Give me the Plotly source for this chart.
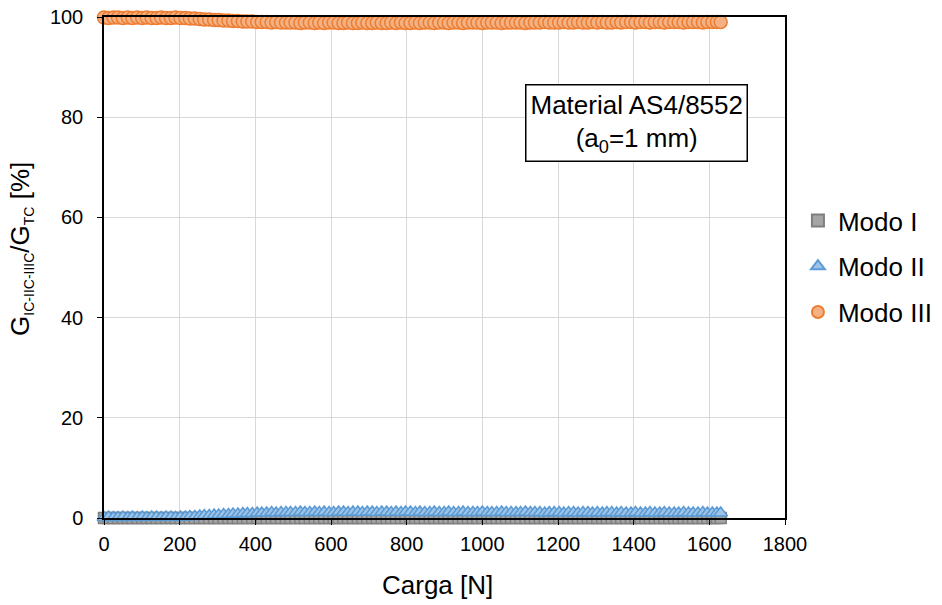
import plotly.graph_objects as go

# Applied load [N]
carga = [
    0, 12, 25, 37, 50, 63, 75, 88, 101, 113,
    126, 139, 151, 164, 177, 189, 202, 215, 227, 240,
    253, 265, 278, 291, 303, 316, 329, 341, 354, 367,
    379, 392, 405, 417, 430, 443, 455, 468, 481, 493,
    506, 519, 531, 544, 557, 569, 582, 595, 607, 620,
    633, 645, 658, 671, 683, 696, 709, 721, 734, 747,
    759, 772, 785, 797, 810, 823, 835, 848, 861, 873,
    886, 899, 911, 924, 937, 949, 962, 975, 987, 1000,
    1013, 1025, 1038, 1051, 1063, 1076, 1089, 1101, 1114, 1127,
    1139, 1152, 1165, 1177, 1190, 1203, 1215, 1228, 1241, 1253,
    1266, 1279, 1291, 1304, 1317, 1329, 1342, 1355, 1367, 1380,
    1393, 1405, 1418, 1431, 1443, 1456, 1469, 1481, 1494, 1507,
    1519, 1532, 1545, 1557, 1570, 1583, 1595, 1608, 1620, 1630,
]

# Energy release rate share of each mode [%]
modo_i = [
    0.0, 0.0, 0.0, 0.0, 0.0, 0.0, 0.0, 0.0, 0.0, 0.0,
    0.0, 0.0, 0.0, 0.0, 0.0, 0.0, 0.0, 0.0, 0.0, 0.0,
    0.0, 0.0, 0.0, 0.0, 0.0, 0.0, 0.0, 0.0, 0.0, 0.0,
    0.0, 0.0, 0.0, 0.0, 0.0, 0.0, 0.0, 0.0, 0.0, 0.0,
    0.0, 0.0, 0.0, 0.0, 0.0, 0.0, 0.0, 0.0, 0.0, 0.0,
    0.0, 0.0, 0.0, 0.0, 0.0, 0.0, 0.0, 0.0, 0.0, 0.0,
    0.0, 0.0, 0.0, 0.0, 0.0, 0.0, 0.0, 0.0, 0.0, 0.0,
    0.0, 0.0, 0.0, 0.0, 0.0, 0.0, 0.0, 0.0, 0.0, 0.0,
    0.0, 0.0, 0.0, 0.0, 0.0, 0.0, 0.0, 0.0, 0.0, 0.0,
    0.0, 0.0, 0.0, 0.0, 0.0, 0.0, 0.0, 0.0, 0.0, 0.0,
    0.0, 0.0, 0.0, 0.0, 0.0, 0.0, 0.0, 0.0, 0.0, 0.0,
    0.0, 0.0, 0.0, 0.0, 0.0, 0.0, 0.0, 0.0, 0.0, 0.0,
    0.0, 0.0, 0.0, 0.0, 0.0, 0.0, 0.0, 0.0, 0.0, 0.0,
]

modo_ii = [
    0.1, 0.2, 0.1, 0.1, 0.2, 0.1, 0.2, 0.1, 0.2, 0.1,
    0.2, 0.2, 0.1, 0.2, 0.2, 0.1, 0.2, 0.2, 0.3, 0.3,
    0.4, 0.5, 0.5, 0.6, 0.6, 0.7, 0.7, 0.8, 0.8, 0.9,
    0.9, 0.9, 1.0, 1.0, 1.0, 1.1, 1.0, 1.1, 1.1, 1.1,
    1.1, 1.2, 1.1, 1.1, 1.2, 1.1, 1.2, 1.1, 1.1, 1.2,
    1.2, 1.1, 1.2, 1.2, 1.1, 1.2, 1.2, 1.1, 1.2, 1.2,
    1.1, 1.2, 1.1, 1.2, 1.2, 1.1, 1.2, 1.1, 1.1, 1.2,
    1.1, 1.1, 1.2, 1.1, 1.1, 1.2, 1.1, 1.1, 1.1, 1.2,
    1.1, 1.1, 1.1, 1.2, 1.1, 1.1, 1.1, 1.1, 1.2, 1.1,
    1.1, 1.1, 1.0, 1.1, 1.1, 1.1, 1.0, 1.1, 1.1, 1.0,
    1.1, 1.1, 1.0, 1.1, 1.0, 1.1, 1.1, 1.0, 1.1, 1.0,
    1.0, 1.1, 1.0, 1.0, 1.1, 1.0, 1.0, 1.1, 1.0, 1.0,
    1.0, 1.1, 1.0, 1.0, 1.0, 1.1, 1.0, 1.0, 1.0, 1.0,
]

modo_iii = [
    99.9, 99.8, 99.9, 99.9, 99.8, 99.9, 99.8, 99.9, 99.8, 99.9,
    99.8, 99.8, 99.9, 99.8, 99.8, 99.9, 99.8, 99.8, 99.7, 99.7,
    99.6, 99.5, 99.5, 99.4, 99.4, 99.3, 99.3, 99.2, 99.2, 99.1,
    99.1, 99.1, 99.0, 99.0, 99.0, 98.9, 99.0, 98.9, 98.9, 98.9,
    98.9, 98.8, 98.9, 98.9, 98.8, 98.9, 98.8, 98.9, 98.9, 98.8,
    98.8, 98.9, 98.8, 98.8, 98.9, 98.8, 98.8, 98.9, 98.8, 98.8,
    98.9, 98.8, 98.9, 98.8, 98.8, 98.9, 98.8, 98.9, 98.9, 98.8,
    98.9, 98.9, 98.8, 98.9, 98.9, 98.8, 98.9, 98.9, 98.9, 98.8,
    98.9, 98.9, 98.9, 98.8, 98.9, 98.9, 98.9, 98.9, 98.8, 98.9,
    98.9, 98.9, 99.0, 98.9, 98.9, 98.9, 99.0, 98.9, 98.9, 99.0,
    98.9, 98.9, 99.0, 98.9, 99.0, 98.9, 98.9, 99.0, 98.9, 99.0,
    99.0, 98.9, 99.0, 99.0, 98.9, 99.0, 99.0, 98.9, 99.0, 99.0,
    99.0, 98.9, 99.0, 99.0, 99.0, 98.9, 99.0, 99.0, 99.0, 99.0,
]

x_ticks = [0, 200, 400, 600, 800, 1000, 1200, 1400, 1600, 1800]
y_ticks = [0, 20, 40, 60, 80, 100]

FONT = "Liberation Sans, Arial, sans-serif"

fig = go.Figure()

fig.add_trace(go.Scatter(
    x=carga, y=modo_i, mode="markers", name="Modo I", cliponaxis=False,
    legendgroup="i",
    marker=dict(symbol="square", size=11, color="#A5A5A5",
                line=dict(color="#7F7F7F", width=1.5)),
))
fig.add_trace(go.Scatter(
    x=carga, y=modo_ii, mode="markers", name="Modo II", cliponaxis=False,
    legendgroup="ii",
    marker=dict(symbol="triangle-up", size=12, color="#9DC3E6",
                line=dict(color="#5B9BD5", width=1.5)),
))
fig.add_trace(go.Scatter(
    x=carga, y=modo_iii, mode="markers", name="Modo III", cliponaxis=False,
    legendgroup="iii",
    marker=dict(symbol="circle", size=13, color="#F4B183",
                line=dict(color="#ED7D31", width=1.5)),
))

# Material label box
fig.add_annotation(
    xref="paper", yref="paper", x=0.782, y=0.788,
    xanchor="center", yanchor="middle",
    text="Material AS4/8552<br>(a<sub>0</sub>=1 mm)",
    showarrow=False, align="center",
    font=dict(family=FONT, size=26, color="black"),
    bordercolor="black", borderwidth=1.5, borderpad=4, bgcolor="white",
)

# Axis titles
fig.add_annotation(
    xref="paper", yref="paper", x=0.489, y=-0.134,
    xanchor="center", yanchor="middle",
    text="Carga [N]", showarrow=False,
    font=dict(family=FONT, size=26, color="black"),
)
fig.add_annotation(
    xref="paper", yref="paper", x=-0.122, y=0.537, textangle=-90,
    xanchor="center", yanchor="middle",
    text=("G<sub><span style='font-size:14px'>IC-IIC-IIIC</span></sub>/G"
          "<sub><span style='font-size:14px'>TC</span></sub> [%]"),
    showarrow=False,
    font=dict(family=FONT, size=26, color="black"),
)

axis_common = dict(
    showline=True, linecolor="black", linewidth=1.5, mirror=True,
    ticks="outside", ticklen=5, tickcolor="black",
    showgrid=True, gridcolor="#D9D9D9", gridwidth=1,
    zeroline=False, automargin=False,
    tickfont=dict(family=FONT, size=20, color="black"),
)

fig.update_layout(
    width=942, height=605,
    margin=dict(l=104, r=157, t=17, b=87, autoexpand=False),
    plot_bgcolor="white", paper_bgcolor="white",
    showlegend=True,
    legend=dict(
        x=1.019, y=0.502, xanchor="left", yanchor="middle",
        font=dict(family=FONT, size=26, color="black"),
        tracegroupgap=9, itemsizing="constant",
        bgcolor="rgba(0,0,0,0)",
    ),
    xaxis=dict(range=[0, 1800], tickvals=x_ticks, ticklabelstandoff=2, **axis_common),
    yaxis=dict(range=[0, 100], tickvals=y_ticks, ticklabelstandoff=10, **axis_common),
)

fig.write_html("out.html")
